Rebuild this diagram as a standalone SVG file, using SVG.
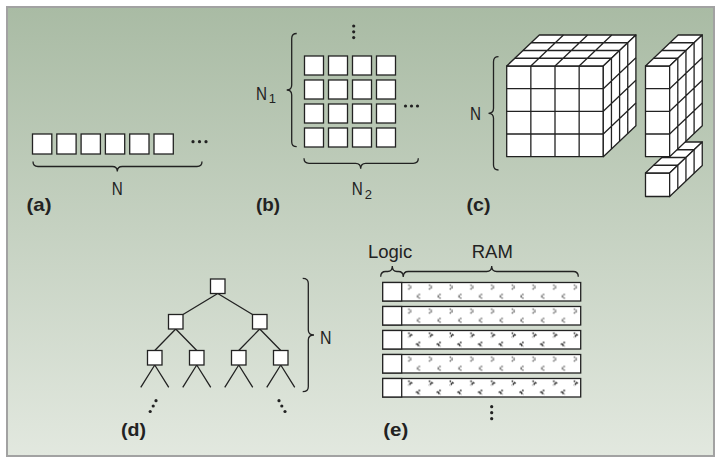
<svg xmlns="http://www.w3.org/2000/svg" width="717" height="459" viewBox="0 0 717 459">
  <defs>
    <linearGradient id="panelBg" x1="0" y1="0" x2="0" y2="1">
      <stop offset="0" stop-color="#a9bba4"/>
      <stop offset="1" stop-color="#e2e8df"/>
    </linearGradient>
    <pattern id="ramGray" patternUnits="userSpaceOnUse" x="401.7" y="282.5" width="20.7" height="24">
      <rect width="20.7" height="24" fill="#fff"/>
      <path d="M6.6,2.4 L9.8,4.6 L6.6,6.8 M18.3,11.6 L15.1,13.8 L18.3,16" fill="none" stroke="#6e6e6e" stroke-width="1.5" stroke-dasharray="1.5 0.6"/>
    </pattern>
    <pattern id="ramBlack" patternUnits="userSpaceOnUse" x="401.7" y="282.5" width="20.7" height="24">
      <rect width="20.7" height="24" fill="#fff"/>
      <path d="M6.6,2.4 L9.8,4.6 L6.6,6.8 M18.3,11.6 L15.1,13.8 L18.3,16" fill="none" stroke="#111" stroke-width="1.5" stroke-dasharray="1.5 1"/>
    </pattern>
  </defs>
  <style>
    .cell { fill: #fff; stroke: #222; stroke-width: 1.3; }
    .ln { fill: none; stroke: #222; stroke-width: 1.3; }
    .face { fill: #fff; stroke: #222; stroke-width: 1.3; stroke-linejoin: round; }
    .brace { fill: none; stroke: #222; stroke-width: 1.3; }
    .dot { fill: #222; }
    .lbl { font-family: "Liberation Sans", Arial, sans-serif; font-size: 18.5px; fill: #222; }
    .sub { font-family: "Liberation Sans", Arial, sans-serif; font-size: 13px; fill: #222; }
    .tag { font-family: "Liberation Sans", Arial, sans-serif; font-size: 19px; font-weight: bold; fill: #222; }
  </style>

  <!-- panel -->
  <rect x="7" y="7" width="707" height="449" fill="url(#panelBg)" stroke="#a2a2a2" stroke-width="2"/>

  <!-- (a) one-dimensional array -->
  <g id="array1d">
    <rect class="cell" x="32.5" y="134" width="19.3" height="20"/>
    <rect class="cell" x="56.8" y="134" width="19.3" height="20"/>
    <rect class="cell" x="81.1" y="134" width="19.3" height="20"/>
    <rect class="cell" x="105.4" y="134" width="19.3" height="20"/>
    <rect class="cell" x="129.7" y="134" width="19.3" height="20"/>
    <rect class="cell" x="154" y="134" width="19.3" height="20"/>
    <circle class="dot" cx="193" cy="141.7" r="1.6"/>
    <circle class="dot" cx="199.5" cy="141.7" r="1.6"/>
    <circle class="dot" cx="206" cy="141.7" r="1.6"/>
    <path class="brace" d="M33,161.5 Q33,166.5 38,166.5 L112.3,166.5 Q117.3,166.5 117.3,171.5 Q117.3,166.5 122.3,166.5 L197,166.5 Q202,166.5 202,161.5"/>
    <text class="lbl" x="117.3" y="195" text-anchor="middle" textLength="11" lengthAdjust="spacingAndGlyphs">N</text>
    <text class="tag" x="26.5" y="211" textLength="25" lengthAdjust="spacingAndGlyphs">(a)</text>
  </g>

  <!-- (b) two-dimensional array -->
  <g id="array2d">
    <rect class="cell" x="304.5" y="56" width="19" height="19"/>
    <rect class="cell" x="328.5" y="56" width="19" height="19"/>
    <rect class="cell" x="352.5" y="56" width="19" height="19"/>
    <rect class="cell" x="376.5" y="56" width="19" height="19"/>
    <rect class="cell" x="304.5" y="80" width="19" height="19"/>
    <rect class="cell" x="328.5" y="80" width="19" height="19"/>
    <rect class="cell" x="352.5" y="80" width="19" height="19"/>
    <rect class="cell" x="376.5" y="80" width="19" height="19"/>
    <rect class="cell" x="304.5" y="104" width="19" height="19"/>
    <rect class="cell" x="328.5" y="104" width="19" height="19"/>
    <rect class="cell" x="352.5" y="104" width="19" height="19"/>
    <rect class="cell" x="376.5" y="104" width="19" height="19"/>
    <rect class="cell" x="304.5" y="128" width="19" height="19"/>
    <rect class="cell" x="328.5" y="128" width="19" height="19"/>
    <rect class="cell" x="352.5" y="128" width="19" height="19"/>
    <rect class="cell" x="376.5" y="128" width="19" height="19"/>
    <circle class="dot" cx="353.7" cy="26" r="1.6"/>
    <circle class="dot" cx="353.7" cy="31.8" r="1.6"/>
    <circle class="dot" cx="353.7" cy="37.6" r="1.6"/>
    <circle class="dot" cx="405.5" cy="106" r="1.6"/>
    <circle class="dot" cx="411.5" cy="106" r="1.6"/>
    <circle class="dot" cx="417.5" cy="106" r="1.6"/>
    <path class="brace" d="M296.7,33.5 Q291.7,33.5 291.7,38.5 L291.7,85 Q291.7,90 286.7,90 Q291.7,90 291.7,95 L291.7,141.7 Q291.7,146.7 296.7,146.7"/>
    <path class="brace" d="M304,158.3 Q304,163.3 309,163.3 L355.7,163.3 Q360.7,163.3 360.7,168.8 Q360.7,163.3 365.7,163.3 L413.3,163.3 Q418.3,163.3 418.3,158.3"/>
    <text class="lbl" x="256" y="100" textLength="11" lengthAdjust="spacingAndGlyphs">N</text>
    <text class="sub" x="268.8" y="103">1</text>
    <text class="lbl" x="351.7" y="195" textLength="11" lengthAdjust="spacingAndGlyphs">N</text>
    <text class="sub" x="364.8" y="198.5">2</text>
    <text class="tag" x="256" y="211" textLength="24" lengthAdjust="spacingAndGlyphs">(b)</text>
  </g>

  <!-- (c) three-dimensional array -->
  <g id="array3d">
    <!-- front face -->
    <rect class="face" x="506.7" y="66" width="96.6" height="90.67"/>
    <path class="ln" d="M530.85,66 V156.67 M555,66 V156.67 M579.15,66 V156.67 M506.7,88.67 H603.3 M506.7,111.33 H603.3 M506.7,134 H603.3"/>
    <!-- top face -->
    <polygon class="face" points="506.7,66 603.3,66 635.9,35 539.3,35"/>
    <path class="ln" d="M514.85,58.25 H611.45 M523,50.5 H619.6 M531.15,42.75 H627.75 M530.85,66 L563.45,35 M555,66 L587.6,35 M579.15,66 L611.75,35"/>
    <!-- right face -->
    <polygon class="face" points="603.3,66 635.9,35 635.9,125.67 603.3,156.67"/>
    <path class="ln" d="M611.45,58.25 V148.92 M619.6,50.5 V141.17 M627.75,42.75 V133.42 M603.3,88.67 L635.9,57.67 M603.3,111.33 L635.9,80.33 M603.3,134 L635.9,103"/>
    <path class="brace" d="M498.5,56.7 Q493.5,56.7 493.5,61.7 L493.5,108.3 Q493.5,113.3 488.5,113.3 Q493.5,113.3 493.5,118.3 L493.5,165 Q493.5,170 498.5,170"/>
    <text class="lbl" x="470" y="120" textLength="11" lengthAdjust="spacingAndGlyphs">N</text>
    <text class="tag" x="466.5" y="211" textLength="24" lengthAdjust="spacingAndGlyphs">(c)</text>
  </g>

  <g id="row3d">
    <rect class="face" x="645.5" y="173" width="24.15" height="23.5"/>
    <polygon class="face" points="645.5,173 669.65,173 702.25,142 678.1,142"/>
    <path class="ln" d="M653.65,165.25 H677.8 M661.8,157.5 H685.95 M669.95,149.75 H694.1"/>
    <polygon class="face" points="669.65,173 702.25,142 702.25,165.5 669.65,196.5"/>
    <path class="ln" d="M677.8,165.25 V188.75 M685.95,157.5 V181 M694.1,149.75 V173.25"/>
  </g>

  <g id="slab3d">
    <rect class="face" x="645.5" y="66" width="24.15" height="90.67"/>
    <path class="ln" d="M645.5,88.67 H669.65 M645.5,111.33 H669.65 M645.5,134 H669.65"/>
    <polygon class="face" points="645.5,66 669.65,66 702.25,35 678.1,35"/>
    <path class="ln" d="M653.65,58.25 H677.8 M661.8,50.5 H685.95 M669.95,42.75 H694.1"/>
    <polygon class="face" points="669.65,66 702.25,35 702.25,125.67 669.65,156.67"/>
    <path class="ln" d="M677.8,58.25 V148.92 M685.95,50.5 V141.17 M694.1,42.75 V133.42 M669.65,88.67 L702.25,57.67 M669.65,111.33 L702.25,80.33 M669.65,134 L702.25,103"/>
  </g>

  <!-- (d) tree -->
  <g id="tree">
    <g id="connectors">
      <path class="ln" d="M217.75,293.5 L183,314.5 M217.75,293.5 L252.5,314.5"/>
      <path class="ln" d="M175.75,329 L154.75,350.5 M175.75,329 L196.75,350.5 M259.75,329 L238.75,350.5 M259.75,329 L280.75,350.5"/>
      <path class="ln" d="M154.75,365 L140.75,387.3 M154.75,365 L168.75,387.3 M196.75,365 L182.75,387.3 M196.75,365 L210.75,387.3 M238.75,365 L224.75,387.3 M238.75,365 L252.75,387.3 M280.75,365 L266.75,387.3 M280.75,365 L294.75,387.3"/>
    </g>
    <rect class="cell" x="210.5" y="279" width="14.5" height="14.5"/>
    <rect class="cell" x="168.5" y="314.5" width="14.5" height="14.5"/>
    <rect class="cell" x="252.5" y="314.5" width="14.5" height="14.5"/>
    <rect class="cell" x="147.5" y="350.5" width="14.5" height="14.5"/>
    <rect class="cell" x="189.5" y="350.5" width="14.5" height="14.5"/>
    <rect class="cell" x="231.5" y="350.5" width="14.5" height="14.5"/>
    <rect class="cell" x="273.5" y="350.5" width="14.5" height="14.5"/>
    <circle class="dot" cx="156" cy="400.7" r="1.6"/>
    <circle class="dot" cx="153.2" cy="406" r="1.6"/>
    <circle class="dot" cx="150.2" cy="411.5" r="1.6"/>
    <circle class="dot" cx="279" cy="400.7" r="1.6"/>
    <circle class="dot" cx="281.8" cy="406" r="1.6"/>
    <circle class="dot" cx="285" cy="411.5" r="1.6"/>
    <path class="brace" d="M302.7,278.3 Q308.3,278.3 308.3,283.3 L308.3,330 Q308.3,335 314,335 Q308.3,335 308.3,340 L308.3,386.7 Q308.3,391.7 302.7,391.7"/>
    <text class="lbl" x="320" y="343.5" textLength="11.5" lengthAdjust="spacingAndGlyphs">N</text>
    <text class="tag" x="121" y="436" textLength="25" lengthAdjust="spacingAndGlyphs">(d)</text>
  </g>

  <!-- (e) logic-in-memory rows -->
  <g id="memory">
    <rect x="401.7" y="282.5" width="179" height="18.5" fill="url(#ramGray)"/>
    <rect x="401.7" y="306.5" width="179" height="18.5" fill="url(#ramGray)"/>
    <rect x="401.7" y="330.5" width="179" height="18.5" fill="url(#ramBlack)"/>
    <rect x="401.7" y="354.5" width="179" height="18.5" fill="url(#ramGray)"/>
    <rect x="401.7" y="378.5" width="179" height="18.5" fill="url(#ramBlack)"/>
    <g fill="none" stroke="#222" stroke-width="1.3">
      <rect x="382.7" y="282.5" width="198" height="18.5"/>
      <rect x="382.7" y="306.5" width="198" height="18.5"/>
      <rect x="382.7" y="330.5" width="198" height="18.5"/>
      <rect x="382.7" y="354.5" width="198" height="18.5"/>
      <rect x="382.7" y="378.5" width="198" height="18.5"/>
    </g>
    <g fill="#fff" stroke="#222" stroke-width="1.3">
      <rect x="382.7" y="282.5" width="19" height="18.5"/>
      <rect x="382.7" y="306.5" width="19" height="18.5"/>
      <rect x="382.7" y="330.5" width="19" height="18.5"/>
      <rect x="382.7" y="354.5" width="19" height="18.5"/>
      <rect x="382.7" y="378.5" width="19" height="18.5"/>
    </g>
    <path class="brace" d="M380.7,276.7 Q380.7,271.5 385.7,271.5 L387.7,271.5 Q392.3,271.5 392.3,266 Q392.3,271.5 397,271.5 L398.3,271.5 Q403.3,271.5 403.3,276.7"/>
    <path class="brace" d="M403.3,276.7 Q403.3,271.5 408.3,271.5 L486.7,271.5 Q491.7,271.5 491.7,266 Q491.7,271.5 496.7,271.5 L573.3,271.5 Q578.3,271.5 578.3,276.7"/>
    <circle class="dot" cx="491.7" cy="406.7" r="1.6"/>
    <circle class="dot" cx="491.7" cy="412.7" r="1.6"/>
    <circle class="dot" cx="491.7" cy="418.7" r="1.6"/>
    <text class="lbl" x="368" y="257.5">Logic</text>
    <text class="lbl" x="471.7" y="257.7">RAM</text>
    <text class="tag" x="383.3" y="436" textLength="25" lengthAdjust="spacingAndGlyphs">(e)</text>
  </g>
</svg>
